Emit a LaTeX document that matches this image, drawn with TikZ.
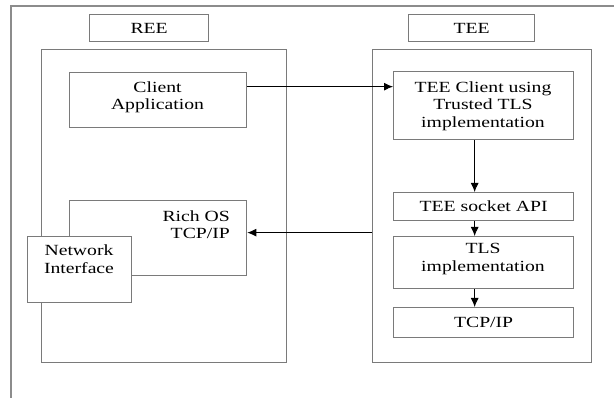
\documentclass[tikz,border=0pt]{standalone}
\usepackage{fontspec}
\setmainfont[FakeStretch=1.27]{Liberation Serif}
\usetikzlibrary{arrows.meta}
\definecolor{framegray}{HTML}{8C8C8C}
\definecolor{boxgray}{HTML}{7A7A7A}
\tikzset{
  box/.style={draw=boxgray,line width=1.3pt,fill=white,inner sep=0pt,anchor=north west},
  txt/.style={inner sep=0pt,align=center,anchor=north},
  arr/.style={line width=0.9pt,-{Latex[length=9pt,width=8pt]}}
}

\begin{document}
\begin{tikzpicture}[x=1pt,y=-1pt,font=\fontsize{15.5}{17.5}\selectfont]
  \useasboundingbox (0,0) rectangle (614,398);
  % outer frame
  \draw[framegray,line width=1.5pt] (11,398) -- (11,6) -- (614,6);
  % REE side
  \node[box,minimum width=119pt,minimum height=27pt] (reelab) at (89,14) {REE};
  \node[box,minimum width=245pt,minimum height=313pt] (reebox) at (41,49) {};
  \node[box,minimum width=177pt,minimum height=55pt] (capp) at (69,72) {};
  \node[txt] at (157.5,81.5) {Client\\Application};
  \node[box,minimum width=177pt,minimum height=75pt] (richos) at (69,200) {};
  \node[txt,align=right,anchor=north east] at (230,210.5) {Rich OS\\TCP/IP};
  \node[box,minimum width=104pt,minimum height=66pt] (netif) at (27,236) {};
  \node[txt] at (79,245) {Network\\Interface};
  % TEE side
  \node[box,minimum width=126pt,minimum height=27pt] (teelab) at (408,14) {TEE};
  \node[box,minimum width=219pt,minimum height=313pt] (teebox) at (372,49) {};
  \node[box,minimum width=180pt,minimum height=68pt] (tcli) at (393,71) {};
  \node[txt] at (483,81.5) {TEE Client using\\Trusted TLS\\implementation};
  \node[box,minimum width=180pt,minimum height=28pt] (sock) at (393,192) {TEE socket API};
  \node[box,minimum width=180pt,minimum height=52pt] (tls) at (393,236) {};
  \node[txt] at (483,243.5) {TLS\\implementation};
  \node[box,minimum width=180pt,minimum height=30pt] (tcp) at (393,307) {TCP/IP};
  % connectors
  \draw[arr] ([yshift=13.5pt]capp.east) -- ([yshift=13.5pt]capp.east -| tcli.west);
  \draw[arr] ([yshift=5.5pt]richos.east -| teebox.west) -- ([yshift=5.5pt]richos.east);
  \draw[arr] ([xshift=-9pt]tcli.south) -- ([xshift=-9pt]sock.north);
  \draw[arr] ([xshift=-9pt]sock.south) -- ([xshift=-9pt]tls.north);
  \draw[arr] ([xshift=-9pt]tls.south) -- ([xshift=-9pt]tcp.north);
\end{tikzpicture}
\end{document}
